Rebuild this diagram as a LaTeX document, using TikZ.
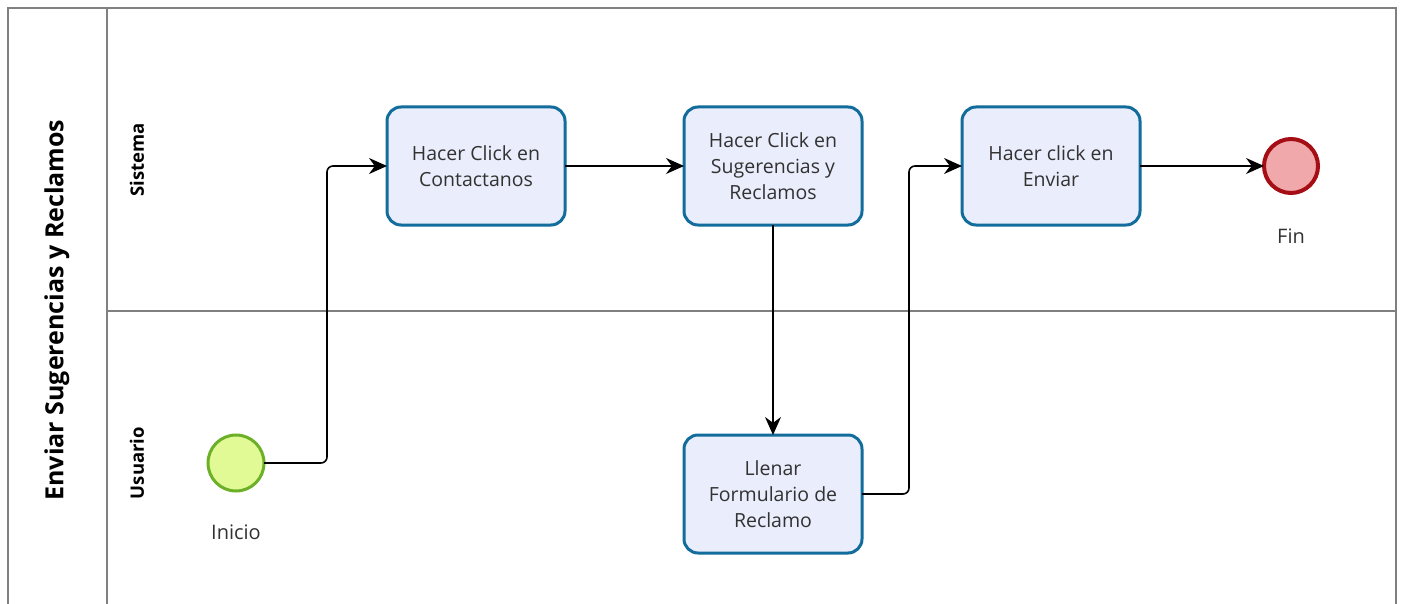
\documentclass[tikz,border=0pt]{standalone}
\usepackage{fontspec}
\setmainfont{Open Sans}
\usetikzlibrary{arrows.meta}
\definecolor{taskfill}{RGB}{234,238,252}
\definecolor{taskdraw}{RGB}{18,108,156}
\definecolor{startfill}{RGB}{226,250,150}
\definecolor{startdraw}{RGB}{108,176,40}
\definecolor{endfill}{RGB}{240,168,170}
\definecolor{enddraw}{RGB}{164,14,20}
\definecolor{poolline}{RGB}{128,128,128}
\definecolor{txt}{RGB}{50,50,50}
\tikzset{
  pool/.style={draw=poolline, line width=2pt},
  taskbox/.style={rectangle, rounded corners=14pt, draw=taskdraw, fill=taskfill, line width=3pt,
    minimum width=178pt, minimum height=118pt, align=center, text=txt, outer sep=0pt,
    font=\fontsize{19.5}{26}\selectfont},
  startev/.style={circle, draw=startdraw, fill=startfill, line width=3pt, minimum size=56pt, inner sep=0pt, outer sep=0pt},
  endev/.style={circle, draw=enddraw, fill=endfill, line width=4pt, minimum size=54pt, inner sep=0pt, outer sep=0pt},
  evlabel/.style={text=txt, font=\fontsize{20}{24}\selectfont},
  lanelabel/.style={rotate=90, text=black, font=\bfseries\fontsize{18.5}{22}\selectfont},
  flow/.style={draw=black, line width=1.6pt, rounded corners=6pt, -{Stealth[length=18pt,width=16pt]}},
}
\begin{document}
\begin{tikzpicture}[x=1pt,y=-1pt]
\useasboundingbox (0,0) rectangle (1404,604);
\fill[white] (0,0) rectangle (1404,604);
\begin{scope}
\clip (0,0) rectangle (1404,604);
\draw[pool] (8,640) -- (8,8) -- (1396,8) -- (1396,640);
\draw[pool] (107,8) -- (107,640);
\draw[pool] (107,311) -- (1396,311);
\end{scope}
\node[rotate=90, font=\bfseries\fontsize{25}{30}\selectfont] (title) at (57,310) {Enviar Sugerencias y Reclamos};
\node[lanelabel] (sis) at (137,160) {Sistema};
\node[lanelabel] (usu) at (137,463) {Usuario};

\node[taskbox] (c1) at (476,166) {Hacer Click en\\Contactanos};
\node[taskbox] (c2) at (773,166) {Hacer Click en\\Sugerencias y\\Reclamos};
\node[taskbox] (c3) at (1051,166) {Hacer click en\\Enviar};
\node[taskbox] (c4) at (773,494) {Llenar\\Formulario de\\Reclamo};
\node[startev] (ini) at (236,463) {};
\node[endev] (fin) at (1291,166) {};
\node[evlabel] (lini) at (236,532) {Inicio};
\node[evlabel] (lfin) at (1291,236) {Fin};

\draw[flow] (ini.east) -- ++(63,0) |- (c1.west);
\draw[flow] (c1.east) -- (c2.west);
\draw[flow] (c2.south) -- (c4.north);
\draw[flow] (c4.east) -- ++(47,0) |- (c3.west);
\draw[flow] (c3.east) -- (fin.west);
\end{tikzpicture}
\end{document}
